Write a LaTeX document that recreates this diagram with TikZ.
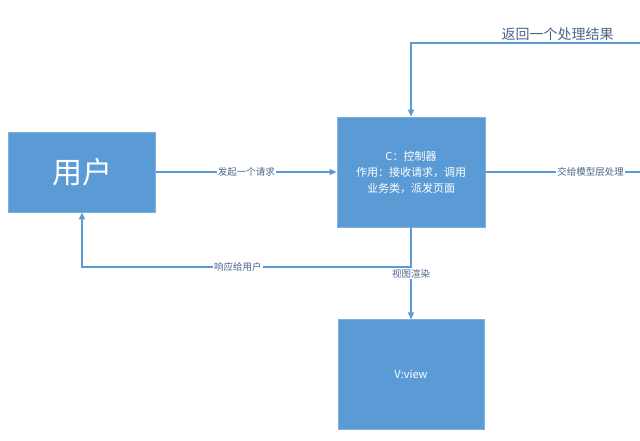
\documentclass[tikz,border=0pt]{standalone}
\usepackage{fontspec}
\setmainfont{Noto Sans CJK SC}
\usepackage{tikz}
\usetikzlibrary{positioning,arrows.meta}

\definecolor{boxblue}{HTML}{5B9BD5}
\definecolor{boxedge}{HTML}{7FB0DE}
\definecolor{lineblue}{HTML}{5B9BD5}
\definecolor{lbltext}{HTML}{4A6589}

\begin{document}
\begin{tikzpicture}[
  x=1pt, y=1pt,
  block/.style={draw=boxedge, line width=0.8pt, fill=boxblue, text=white, align=center, font=\fontsize{11}{16}\selectfont},
  arrow/.style={-{Triangle[length=7pt, width=6pt]}, draw=lineblue, line width=1.2pt},
  wire/.style={draw=lineblue, line width=1.2pt},
  lbl/.style={fill=white, text=lbltext, inner sep=1pt, font=\fontsize{9.5}{10}\selectfont},
  biglbl/.style={text=lbltext, inner sep=2pt, font=\fontsize{14}{15}\selectfont}
]
\useasboundingbox (0,0) rectangle (640,440);

\node[block, minimum width=147pt, minimum height=80pt, font=\fontsize{30}{32}\selectfont] (user) at (82,268) {用户};
\node[block, minimum width=148pt, minimum height=110pt] (ctrl) at (411,268) {C：控制器\\作用：接收请求，调用\\业务类，派发页面};
\node[block, minimum width=146pt, minimum height=110pt, below=92pt of ctrl] (view) {V:view};

\coordinate (ret) at (640,397);
\coordinate (mdl) at (640,268);
\coordinate (resp) at (411,173);

\draw[arrow] (user) -- node[lbl]{发起一个请求} (ctrl);
\draw[wire] (ctrl) -- node[lbl, pos=0.68]{交给模型层处理} (mdl);
\draw[arrow] (ret) -| node[biglbl, above, pos=0.18]{返回一个处理结果} (ctrl);
\draw[arrow] (resp) -| node[lbl, pos=0.263]{响应给用户} (user);
\draw[arrow] (ctrl) -- node[lbl, pos=0.5]{视图渲染} (view);
\end{tikzpicture}
\end{document}
